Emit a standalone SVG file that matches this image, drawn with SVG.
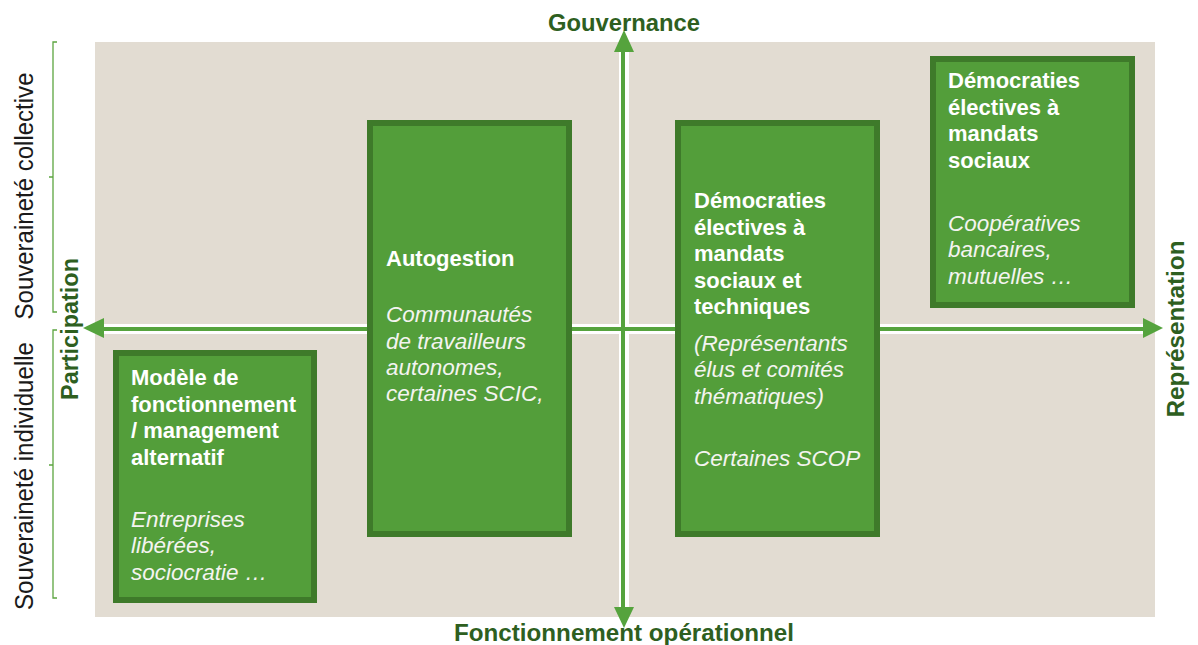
<svg xmlns="http://www.w3.org/2000/svg" width="1198" height="645" viewBox="0 0 1198 645">
<style>
.bg{fill:#e2dcd2}
.box{fill:#539e3a;stroke:#3e7a2a;stroke-width:6}
.t{font-family:"Liberation Sans",Arial,sans-serif;font-size:22px;fill:#ffffff;font-weight:bold}
.i{font-family:"Liberation Sans",Arial,sans-serif;font-size:22.5px;fill:#f4f4f0;font-style:italic}
.ax{font-family:"Liberation Sans",Arial,sans-serif;font-size:24px;font-weight:bold;fill:#2e5f1f}
.sv{font-family:"Liberation Sans",Arial,sans-serif;font-size:26px;fill:#1a1a1a}
.br{fill:none;stroke:#5ca540;stroke-width:1.3}
.halo{stroke:#ffffff;stroke-width:10;fill:none}
.shaft{stroke:#55a33d;stroke-width:4;fill:none}
.head{fill:#55a33d}
</style>
<rect class="bg" x="95" y="42" width="1060" height="575"/>
<g id="connectors">
<line class="halo" x1="104" y1="329" x2="1143" y2="329"/>
<line class="halo" x1="624" y1="52" x2="624" y2="608"/>
<line class="shaft" x1="104" y1="329" x2="1143" y2="329"/>
<line class="shaft" x1="623" y1="52" x2="623" y2="608"/>
<polygon class="head" points="83,328 104,318 104,338"/>
<polygon class="head" points="1163,328 1143,318 1143,338"/>
<polygon class="head" points="624,30 614,52 634,52"/>
<polygon class="head" points="624,628 614,607 634,607"/>
</g>
<g id="brackets">
<path class="br" d="M57,42 H53 V312 H57 M53,177 H49"/>
<path class="br" d="M57,330 H53 V598 H57 M53,465 H49"/>
</g>
<g id="axis-labels">
<text class="ax" x="624" y="31" text-anchor="middle" textLength="152" lengthAdjust="spacingAndGlyphs">Gouvernance</text>
<text class="ax" x="624" y="641" text-anchor="middle" textLength="340" lengthAdjust="spacingAndGlyphs">Fonctionnement opérationnel</text>
<text class="ax" transform="translate(1184,329) rotate(-90)" text-anchor="middle" textLength="177" lengthAdjust="spacingAndGlyphs">Représentation</text>
<text class="ax" transform="translate(78,329) rotate(-90)" text-anchor="middle" textLength="142" lengthAdjust="spacingAndGlyphs">Participation</text>
<text class="sv" transform="translate(33,196) rotate(-90)" text-anchor="middle" textLength="247" lengthAdjust="spacingAndGlyphs">Souveraineté collective</text>
<text class="sv" transform="translate(33,476) rotate(-90)" text-anchor="middle" textLength="268" lengthAdjust="spacingAndGlyphs">Souveraineté individuelle</text>
</g>
<g id="node-modele">
<rect class="box" x="116" y="353" width="198" height="247"/>
<text class="t" x="131" y="385">Modèle de</text>
<text class="t" x="131" y="412">fonctionnement</text>
<text class="t" x="131" y="438">/ management</text>
<text class="t" x="131" y="465">alternatif</text>
<text class="i" x="131" y="527">Entreprises</text>
<text class="i" x="131" y="553">libérées,</text>
<text class="i" x="131" y="580">sociocratie …</text>
</g>
<g id="node-autogestion">
<rect class="box" x="370" y="123" width="199" height="411"/>
<text class="t" x="386" y="266">Autogestion</text>
<text class="i" x="386" y="322">Communautés</text>
<text class="i" x="386" y="349">de travailleurs</text>
<text class="i" x="386" y="375">autonomes,</text>
<text class="i" x="386" y="401">certaines SCIC,</text>
</g>
<g id="node-democraties-techniques">
<rect class="box" x="678" y="123" width="199" height="411"/>
<text class="t" x="694" y="208">Démocraties</text>
<text class="t" x="694" y="235">électives à</text>
<text class="t" x="694" y="261">mandats</text>
<text class="t" x="694" y="288">sociaux et</text>
<text class="t" x="694" y="314">techniques</text>
<text class="i" x="694" y="351">(Représentants</text>
<text class="i" x="694" y="377">élus et comités</text>
<text class="i" x="694" y="404">thématiques)</text>
<text class="i" x="694" y="466">Certaines SCOP</text>
</g>
<g id="node-democraties-sociaux">
<rect class="box" x="933" y="59" width="199" height="246"/>
<text class="t" x="948" y="88">Démocraties</text>
<text class="t" x="948" y="115">électives à</text>
<text class="t" x="948" y="141">mandats</text>
<text class="t" x="948" y="168">sociaux</text>
<text class="i" x="948" y="231">Coopératives</text>
<text class="i" x="948" y="257">bancaires,</text>
<text class="i" x="948" y="284">mutuelles …</text>
</g>
</svg>
